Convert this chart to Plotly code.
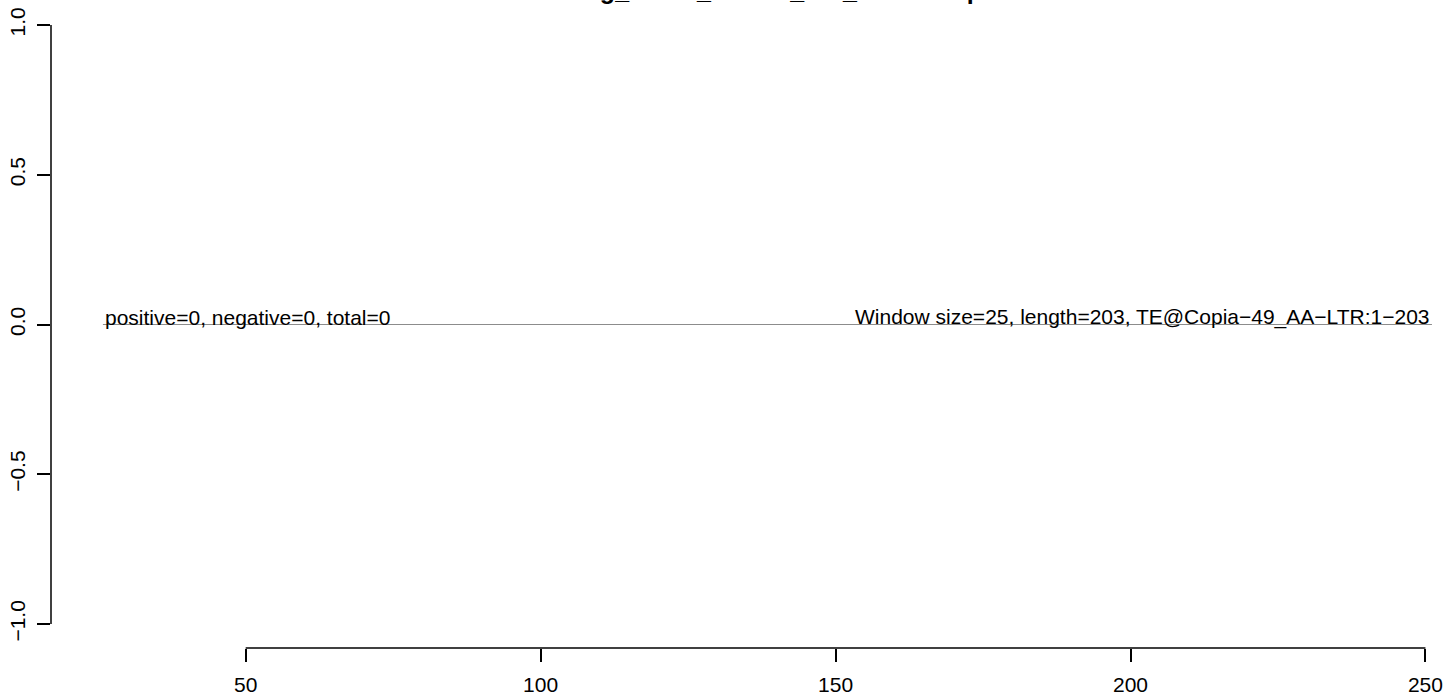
import plotly.graph_objects as go

# data
line_x = [25.8, 251.1]
line_y = [0, 0]
x_ticks = [50, 100, 150, 200, 250]
y_ticks = [-1.0, -0.5, 0.0, 0.5, 1.0]
y_tick_labels = ["\u22121.0", "\u22120.5", "0.0", "0.5", "1.0"]
left_label = "positive=0, negative=0, total=0"
right_label = "Window size=25, length=203, TE@Copia\u221249_AA\u2212LTR:1\u2212203"
title_text = "Aaeg_sRNA_female_WT_reads.map"

FONT = "Liberation Sans, Arial, Helvetica, sans-serif"

fig = go.Figure()
fig.add_trace(go.Scatter(x=line_x, y=line_y, mode="lines",
                         line=dict(color="#8c8c8c", width=1.2),
                         hoverinfo="skip", showlegend=False))

fig.add_annotation(x=line_x[0], y=0, xref="x", yref="y", text=left_label,
                   showarrow=False, xanchor="left", yanchor="bottom", yshift=-6,
                   font=dict(family=FONT, size=21, color="black"))
fig.add_annotation(x=line_x[-1], y=0, xref="x", yref="y", text=right_label,
                   showarrow=False, xanchor="right", yanchor="bottom", yshift=-6,
                   font=dict(family=FONT, size=21, color="black"))

fig.add_annotation(x=138.5, y=1, xref="x", yref="paper", text="<b>" + title_text + "</b>",
                   showarrow=False, xanchor="center", yanchor="bottom", yshift=-5,
                   font=dict(family=FONT, size=25, color="black"))

# axis lines spanning first to last tick (R style)
fig.add_shape(type="line", xref="x", yref="paper", x0=x_ticks[0], x1=x_ticks[-1], y0=0, y1=0,
              line=dict(color="black", width=1.5))
fig.add_shape(type="line", xref="paper", yref="y", x0=0, x1=0, y0=y_ticks[0], y1=y_ticks[-1],
              line=dict(color="black", width=1.5))

fig.update_layout(
    width=1452, height=697,
    margin=dict(l=51, r=0, t=1, b=49),
    plot_bgcolor="white", paper_bgcolor="white",
    showlegend=False,
    xaxis=dict(range=[17.0, 254.5], tickmode="array", tickvals=x_ticks,
               ticktext=[str(v) for v in x_ticks], automargin=False,
               showgrid=False, zeroline=False, showline=False,
               ticks="outside", ticklen=13, tickwidth=1.5, tickcolor="black",
               ticklabelstandoff=5,
               tickfont=dict(family=FONT, size=21, color="black")),
    yaxis=dict(range=[-1.08, 1.08], tickmode="array", tickvals=y_ticks,
               ticktext=y_tick_labels, tickangle=-90, automargin=False,
               showgrid=False, zeroline=False, showline=False,
               ticks="outside", ticklen=13, tickwidth=1.5, tickcolor="black",
               ticklabelstandoff=4,
               tickfont=dict(family=FONT, size=21, color="black")),
)

fig.write_html("out.html", config={"displayModeBar": False},
               post_script="document.body.style.margin='0px';document.body.style.overflow='hidden';")
